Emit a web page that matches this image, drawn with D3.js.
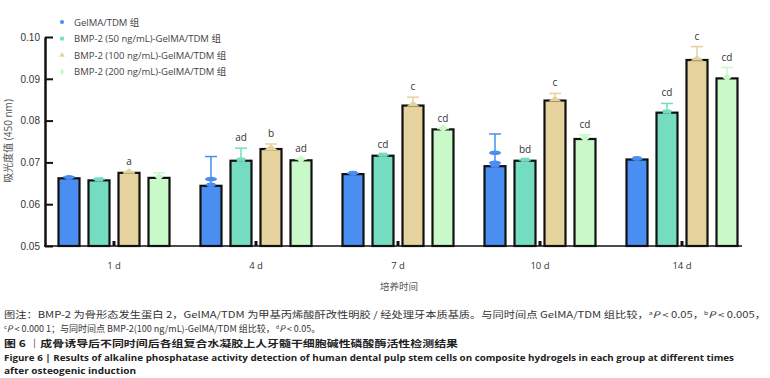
<!DOCTYPE html>
<html>
<head>
<meta charset="utf-8">
<script src="https://cdn.jsdelivr.net/npm/d3@7"></script>
<style>
  body { margin: 0; background: #fff; }
  svg { display: block; font-family: "Open Sans", "Noto Sans CJK SC", sans-serif; }
</style>
</head>
<body>
<div id="chart-container"></div>
<script>
const days = ["1 d", "4 d", "7 d", "10 d", "14 d"];
const groups = ["GelMA/TDM 组", "BMP-2 (50 ng/mL)-GelMA/TDM 组", "BMP-2 (100 ng/mL)-GelMA/TDM 组", "BMP-2 (200 ng/mL)-GelMA/TDM 组"];
const gelma = [0.0662, 0.0644, 0.0672, 0.0691, 0.0707];
const bmp50 = [0.0657, 0.0704, 0.0716, 0.0704, 0.0819];
const bmp100 = [0.0675, 0.0732, 0.0836, 0.0848, 0.0945];
const bmp200 = [0.0663, 0.0705, 0.0779, 0.0756, 0.0901];
const gelmaErr = [0.0003, 0.0070, 0.0002, 0.0077, 0.0002];
const bmp50Err = [0.0003, 0.0030, 0.0002, 0.0002, 0.0022];
const bmp100Err = [0.0002, 0.0012, 0.0020, 0.0017, 0.0032];
const bmp200Err = [0.0012, 0.0003, 0.0002, 0.0010, 0.0026];
const gelmaDots = [[], [0.0660], [], [0.0723, 0.0699], []];
const bmp50Sig = ["", "ad", "cd", "bd", "cd"];
const bmp100Sig = ["a", "b", "c", "c", "c"];
const bmp200Sig = ["", "ad", "cd", "cd", "cd"];
const yTicks = [0.05, 0.06, 0.07, 0.08, 0.09, 0.10];

const colors = ["#4a8ef2", "#74dcc0", "#e6d29c", "#c9f8c9"];
const values = [gelma, bmp50, bmp100, bmp200];
const errs = [gelmaErr, bmp50Err, bmp100Err, bmp200Err];
const sigs = [null, bmp50Sig, bmp100Sig, bmp200Sig];

const rows = [];
days.forEach((d, i) => {
  groups.forEach((g, j) => {
    rows.push({ day: d, group: g, s: j, value: values[j][i], err: errs[j][i],
      sig: sigs[j] ? sigs[j][i] : "", dots: j === 0 ? gelmaDots[i] : [] });
  });
});

const svg = d3.select("#chart-container").append("svg")
  .attr("width", 770).attr("height", 378);

const x = d3.scaleBand().domain(days).range([43, 753]);
const xs = d3.scalePoint().domain(groups).range([-45, 45]);
const y = d3.scaleLinear().domain([0.05, 0.10]).range([246, 37]);
const barW = 21;
const cx = d => x(d.day) + x.bandwidth() / 2 + xs(d.group);

// y axis
const yAxis = svg.append("g")
  .attr("transform", "translate(45,0)")
  .call(d3.axisLeft(y).tickValues(yTicks).tickFormat(d3.format(".2f")).tickSizeInner(-8).tickSizeOuter(0).tickPadding(5));
yAxis.select(".domain").attr("stroke", "#111").attr("stroke-width", 2.5);
yAxis.selectAll(".tick line").attr("stroke", "#111").attr("stroke-width", 2);
yAxis.selectAll(".tick text").attr("font-size", 10).attr("fill", "#333");

svg.append("text")
  .attr("transform", "translate(12,141) rotate(-90)")
  .attr("text-anchor", "middle")
  .attr("font-size", 10).attr("fill", "#555")
  .text("吸光度值 (450 nm)");

// bars
const bars = svg.append("g");
bars.selectAll("rect")
  .data(rows).enter().append("rect")
  .attr("x", d => cx(d) - barW / 2)
  .attr("y", d => y(d.value))
  .attr("width", barW)
  .attr("height", d => y(0.05) - y(d.value))
  .attr("fill", d => colors[d.s])
  .attr("stroke", "#111")
  .attr("stroke-width", 2.2);

// error bars
const eb = svg.append("g");
eb.selectAll("line.whisker")
  .data(rows).enter().append("line")
  .attr("class", "whisker")
  .attr("x1", cx).attr("x2", cx)
  .attr("y1", d => y(d.value)).attr("y2", d => y(d.value + d.err))
  .attr("stroke", d => colors[d.s]).attr("stroke-width", 1.5);
eb.selectAll("line.cap")
  .data(rows).enter().append("line")
  .attr("class", "cap")
  .attr("x1", d => cx(d) - 6).attr("x2", d => cx(d) + 6)
  .attr("y1", d => y(d.value + d.err)).attr("y2", d => y(d.value + d.err))
  .attr("stroke", d => colors[d.s]).attr("stroke-width", 1.5);

const symbols = [d3.symbolCircle, d3.symbolSquare, d3.symbolTriangle, d3.symbolDiamond];
eb.selectAll("path.mark")
  .data(rows).enter().append("path")
  .attr("class", "mark")
  .attr("d", d => d3.symbol(symbols[d.s], 28)())
  .attr("transform", d => `translate(${cx(d)},${y(d.value) - 1}) scale(1.6,0.8)`)
  .attr("fill", d => colors[d.s]);

eb.selectAll("g.dots")
  .data(rows.filter(d => d.dots.length)).enter().append("g")
  .selectAll("ellipse")
  .data(d => d.dots.map(v => ({ x: cx(d), v: v })))
  .enter().append("ellipse")
  .attr("cx", d => d.x).attr("cy", d => y(d.v))
  .attr("rx", 6).attr("ry", 2.3)
  .attr("fill", colors[0]);

// significance letters
svg.append("g").selectAll("text")
  .data(rows.filter(d => d.sig)).enter().append("text")
  .attr("x", cx)
  .attr("y", d => y(d.value + d.err) - 7)
  .attr("text-anchor", "middle")
  .attr("font-size", 10).attr("fill", "#333")
  .text(d => d.sig);

// x axis
const xAxis = svg.append("g")
  .attr("transform", "translate(0,246)");
xAxis.append("line")
  .attr("x1", 44).attr("x2", 742)
  .attr("stroke", "#111").attr("stroke-width", 1.5);
xAxis.selectAll("rect.tk")
  .data(days).enter().append("rect")
  .attr("class", "tk")
  .attr("x", d => x(d) + x.bandwidth() / 2 - 1.5)
  .attr("y", -5).attr("width", 3).attr("height", 5)
  .attr("fill", "#111");
xAxis.selectAll("text")
  .data(days).enter().append("text")
  .attr("x", d => x(d) + x.bandwidth() / 2)
  .attr("y", 23)
  .attr("text-anchor", "middle")
  .attr("font-size", 9.5).attr("fill", "#333")
  .text(d => d);

svg.append("text")
  .attr("x", 399).attr("y", 290)
  .attr("text-anchor", "middle")
  .attr("font-size", 9.5).attr("fill", "#555")
  .text("培养时间");

// legend
const legend = svg.append("g").attr("transform", "translate(62,22)");
groups.forEach((g, j) => {
  const row = legend.append("g").attr("transform", `translate(0,${j * 16.6})`);
  row.append("path")
    .attr("d", d3.symbol(symbols[j], 14)())
    .attr("fill", colors[j]);
  row.append("text")
    .attr("x", 12).attr("y", 3.5)
    .attr("font-size", 9.5).attr("fill", "#444")
    .text(g);
});

// caption
const cap = svg.append("g").attr("font-family", "'Noto Sans CJK SC', sans-serif");
const l1 = cap.append("text").attr("x", 4).attr("y", 318).attr("font-size", 9).attr("fill", "#333")
  .attr("textLength", 762).attr("lengthAdjust", "spacingAndGlyphs");
l1.append("tspan").text("图注：BMP-2 为骨形态发生蛋白 2，GelMA/TDM 为甲基丙烯酸酐改性明胶 / 经处理牙本质基质。与同时间点 GelMA/TDM 组比较，");
l1.append("tspan").attr("font-size", 5.5).attr("dy", -3).text("a");
l1.append("tspan").attr("font-style", "italic").attr("dy", 3).text("P");
l1.append("tspan").text(" < 0.05，");
l1.append("tspan").attr("font-size", 5.5).attr("dy", -3).text("b");
l1.append("tspan").attr("font-style", "italic").attr("dy", 3).text("P");
l1.append("tspan").text(" < 0.005，");

const l2 = cap.append("text").attr("x", 4).attr("y", 332).attr("font-size", 9).attr("fill", "#333");
l2.append("tspan").attr("font-size", 5.5).attr("dy", -3).text("c");
l2.append("tspan").attr("font-style", "italic").attr("dy", 3).text("P");
l2.append("tspan").text(" < 0.000 1；与同时间点 BMP-2(100 ng/mL)-GelMA/TDM 组比较，");
l2.append("tspan").attr("font-size", 5.5).attr("dx", 1).attr("dy", -3).text("d");
l2.append("tspan").attr("font-style", "italic").attr("dy", 3).text("P");
l2.append("tspan").text(" < 0.05。");

cap.append("text").attr("x", 4).attr("y", 346.5).attr("font-size", 9.5).attr("font-weight", "bold").attr("fill", "#222")
  .attr("textLength", 454).attr("lengthAdjust", "spacingAndGlyphs")
  .text("图 6 ｜成骨诱导后不同时间后各组复合水凝胶上人牙髓干细胞碱性磷酸酶活性检测结果");
cap.append("text").attr("x", 4).attr("y", 361).attr("font-size", 9.5).attr("font-weight", "bold").attr("fill", "#222")
  .attr("font-family", "'Open Sans', sans-serif")
  .attr("textLength", 730).attr("lengthAdjust", "spacingAndGlyphs")
  .text("Figure 6 | Results of alkaline phosphatase activity detection of human dental pulp stem cells on composite hydrogels in each group at different times");
cap.append("text").attr("x", 4).attr("y", 374).attr("font-size", 9.5).attr("font-weight", "bold").attr("fill", "#222")
  .attr("font-family", "'Open Sans', sans-serif")
  .attr("textLength", 132).attr("lengthAdjust", "spacingAndGlyphs")
  .text("after osteogenic induction");
</script>
</body>
</html>
